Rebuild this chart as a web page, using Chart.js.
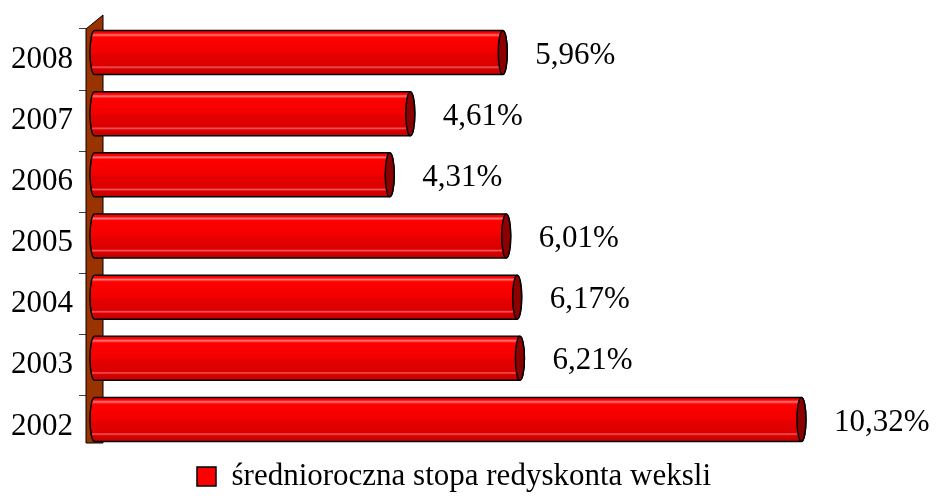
<!DOCTYPE html>
<html lang="pl">
<head>
<meta charset="utf-8">
<script src="https://cdn.jsdelivr.net/npm/chart.js@4/dist/chart.umd.min.js"></script>
<style>
    html, body { margin: 0; padding: 0; background: #ffffff; }
    #wrap { width: 944px; height: 496px; }
</style>
</head>
<body>
<div id="wrap"><canvas id="stopaChart" width="944" height="496"></canvas></div>
<script>
"use strict";

// dane
const years = ['2002', '2003', '2004', '2005', '2006', '2007', '2008'];
const stopa = [10.32, 6.21, 6.17, 6.01, 4.31, 4.61, 5.96];
const seriesName = 'średnioroczna stopa redyskonta weksli';

const FONT = "'Liberation Serif', 'Times New Roman', serif";
// przesunięcie "głębokości" 3D
const DEPTH_X = 17;
const DEPTH_Y = -14;

function fmt(v) {
    return v.toFixed(2).replace('.', ',') + '%';
}

// ściana z lewej strony
const wallPlugin = {
    id: 'wall',
    beforeDatasetsDraw(chart) {
        const { ctx, chartArea } = chart;
        const l = chartArea.left, t = chartArea.top, b = chartArea.bottom;
        ctx.save();
        ctx.beginPath();
        ctx.moveTo(l, t);
        ctx.lineTo(l + DEPTH_X, t + DEPTH_Y);
        ctx.lineTo(l + DEPTH_X, b + DEPTH_Y);
        ctx.lineTo(l, b + DEPTH_Y);
        ctx.closePath();
        ctx.fillStyle = '#993300';
        ctx.fill();
        ctx.lineWidth = 1;
        ctx.strokeStyle = '#000000';
        ctx.stroke();
        ctx.restore();
    }
};

// walce zamiast płaskich słupków
const cylinderPlugin = {
    id: 'cylinders',
    beforeDatasetDraw() {
        return false;
    },
    afterDatasetsDraw(chart) {
        const { ctx } = chart;
        const meta = chart.getDatasetMeta(0);
        const dx = DEPTH_X / 2, dy = DEPTH_Y / 2;
        ctx.save();
        meta.data.forEach((bar, i) => {
            const x0 = bar.base + dx;
            const x1 = bar.x + dx;
            const yc = bar.y + dy;
            const ry = bar.height / 2;
            const rx = 4.5;
            const top = yc - ry, bottom = yc + ry;

            const g = ctx.createLinearGradient(0, top, 0, bottom);
            g.addColorStop(0, '#f20000');
            g.addColorStop(0.06, '#ff0000');
            g.addColorStop(0.1, '#ff7a7a');
            g.addColorStop(0.15, '#ff0000');
            g.addColorStop(0.5, '#f20000');
            g.addColorStop(0.55, '#e40000');
            g.addColorStop(0.8, '#dc0000');
            g.addColorStop(0.83, '#ee5a5a');
            g.addColorStop(0.87, '#d80000');
            g.addColorStop(1, '#c40000');

            ctx.beginPath();
            ctx.moveTo(x1, top);
            ctx.lineTo(x0, top);
            ctx.ellipse(x0, yc, rx, ry, 0, -Math.PI / 2, Math.PI / 2, true);
            ctx.lineTo(x1, bottom);
            ctx.ellipse(x1, yc, rx, ry, 0, Math.PI / 2, -Math.PI / 2, true);
            ctx.closePath();
            ctx.fillStyle = g;
            ctx.fill();
            ctx.lineWidth = 1.5;
            ctx.strokeStyle = '#000000';
            ctx.stroke();

            // denko walca
            ctx.beginPath();
            ctx.ellipse(x1, yc, rx, ry, 0, 0, Math.PI * 2);
            ctx.fillStyle = '#8c0000';
            ctx.fill();
            ctx.stroke();

            // etykieta wartości
            ctx.fillStyle = '#000000';
            ctx.font = '31px ' + FONT;
            ctx.textAlign = 'left';
            ctx.textBaseline = 'middle';
            ctx.fillText(fmt(stopa[i]), x1 + rx + 28, yc + 3);
        });
        ctx.restore();
    }
};

const ctx = document.getElementById('stopaChart').getContext('2d');

new Chart(ctx, {
    type: 'bar',
    data: {
        labels: years,
        datasets: [{
            label: seriesName,
            data: stopa,
            backgroundColor: '#ff0000',
            borderColor: '#000000',
            borderWidth: 1.5,
            barPercentage: 0.72,
            categoryPercentage: 1
        }]
    },
    options: {
        indexAxis: 'y',
        responsive: false,
        animation: false,
        layout: {
            padding: { top: 29, right: 36, bottom: -6, left: 0 }
        },
        scales: {
            x: {
                display: false,
                min: 0,
                max: 12
            },
            y: {
                reverse: true,
                offset: true,
                border: { display: false },
                grid: {
                    display: true,
                    drawOnChartArea: false,
                    drawTicks: true,
                    tickLength: 7,
                    offset: true,
                    // dolna kreska schowana pod podłogą
                    color: c => c.index === 0 ? 'rgba(0,0,0,0)' : '#404040',
                    lineWidth: 1
                },
                ticks: {
                    color: '#000000',
                    padding: 6,
                    font: { family: FONT, size: 31 }
                },
                afterFit(scale) {
                    scale.width = 86;
                }
            }
        },
        plugins: {
            legend: {
                position: 'bottom',
                labels: {
                    color: '#000000',
                    boxWidth: 19,
                    boxHeight: 19,
                    padding: 4,
                    font: { family: FONT, size: 31 }
                }
            },
            tooltip: { enabled: false }
        }
    },
    plugins: [wallPlugin, cylinderPlugin]
});
</script>
</body>
</html>
